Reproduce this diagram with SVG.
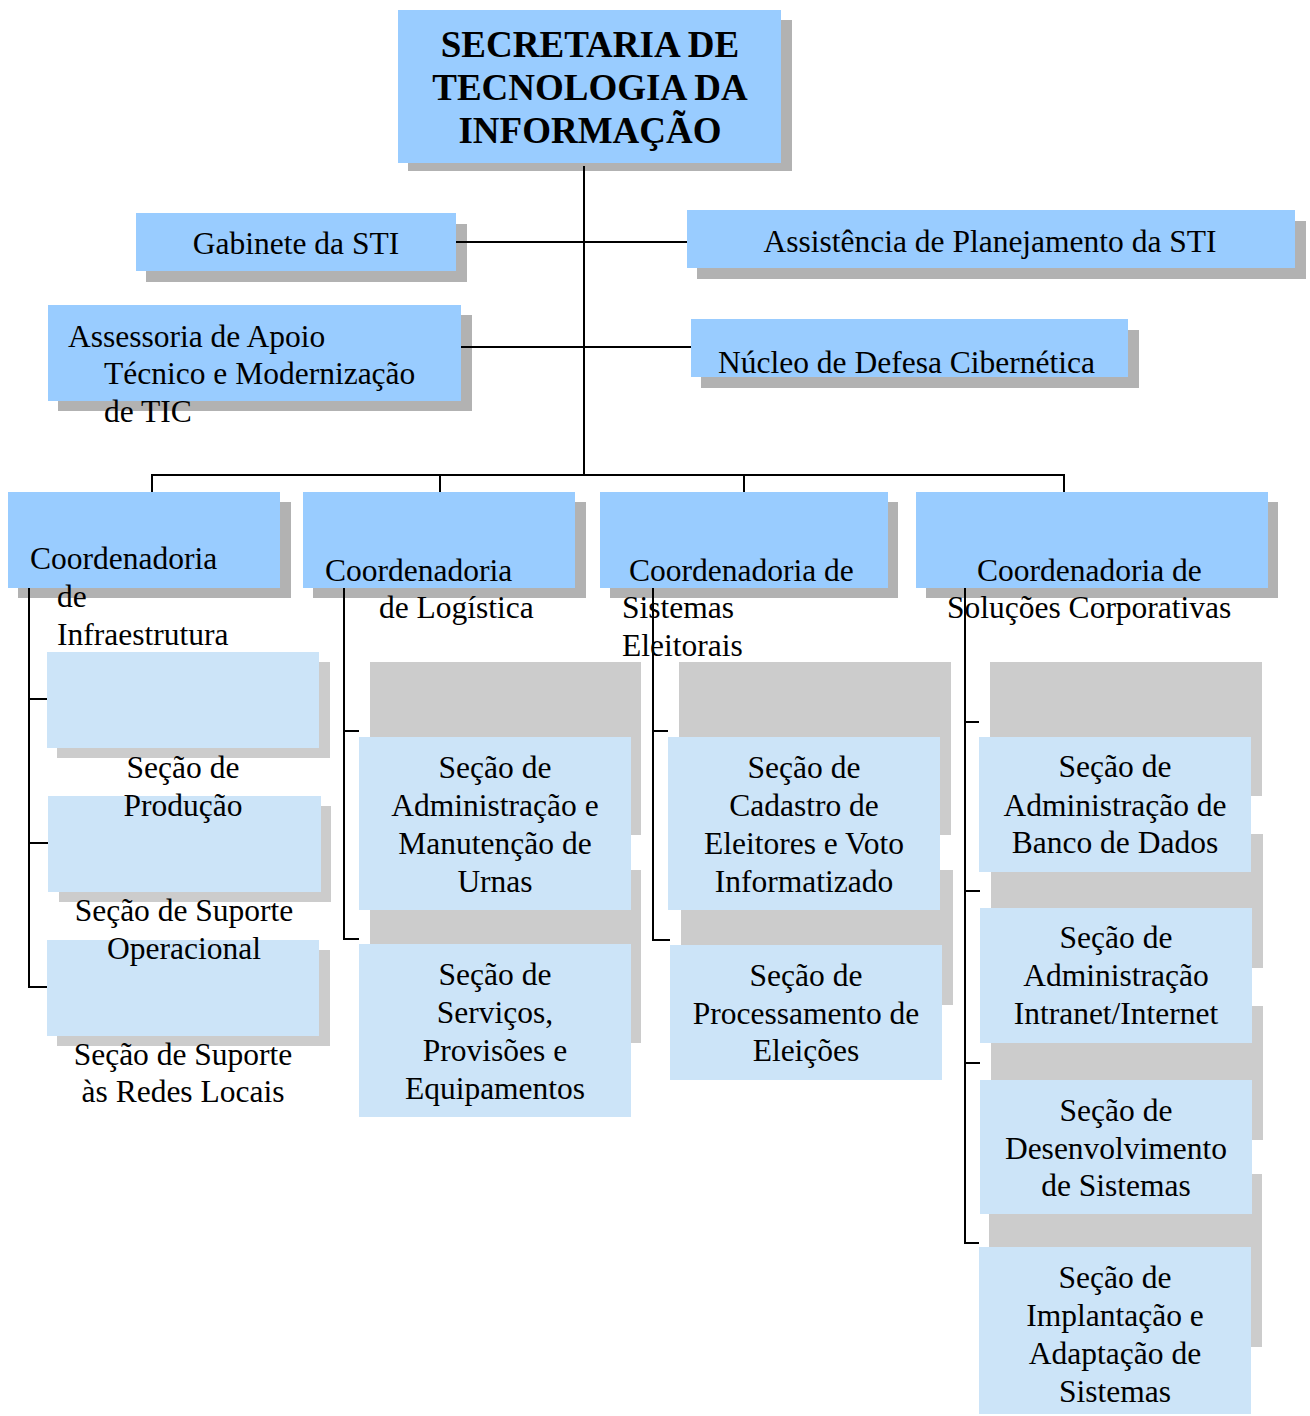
<svg xmlns="http://www.w3.org/2000/svg" width="1310" height="1416" viewBox="0 0 1310 1416">
<style>
.sh1{fill:#B2B2B2}
.sh2{fill:#CCCCCC}
.b1{fill:#99CCFF}
.b2{fill:#CCE4F8}
text{font-family:"Liberation Serif","Times New Roman",serif;font-size:31.5px;fill:#000}
.c{text-anchor:middle}
.title{font-weight:bold;font-size:37px}
.ln{stroke:#000;stroke-width:2;fill:none}
</style>
<rect width="1310" height="1416" fill="#FFFFFF"/>

<g id="sti">
<rect class="sh1" x="408" y="20" width="384" height="151"/>
<rect class="b1" x="398" y="10" width="383" height="153"/>
<text class="c title" x="590" y="57">SECRETARIA DE</text>
<text class="c title" x="590" y="100">TECNOLOGIA DA</text>
<text class="c title" x="590" y="143">INFORMAÇÃO</text>
</g>

<g id="gabinete">
<rect class="sh1" x="146" y="224" width="321" height="58"/>
<rect class="b1" x="136" y="213" width="320" height="58"/>
<text class="c" x="296" y="254">Gabinete da STI</text>
</g>

<g id="assistencia">
<rect class="sh1" x="697" y="221" width="609" height="58"/>
<rect class="b1" x="687" y="210" width="608" height="58"/>
<text class="c" x="990" y="252">Assistência de Planejamento da STI</text>
</g>

<g id="assessoria">
<rect class="sh1" x="58" y="315" width="414" height="96"/>
<rect class="b1" x="48" y="305" width="413" height="96"/>
<text x="68" y="347">Assessoria de Apoio</text>
<text x="104" y="384">Técnico e Modernização</text>
<text x="104" y="422">de TIC</text>
</g>

<g id="nucleo">
<rect class="sh1" x="701" y="330" width="438" height="58"/>
<rect class="b1" x="691" y="319" width="437" height="58"/>
<text x="718" y="373">Núcleo de Defesa Cibernética</text>
</g>

<g id="coord-infra">
<rect class="sh1" x="18" y="502" width="273" height="96"/>
<rect class="b1" x="8" y="492" width="272" height="96"/>
<text x="30" y="569">Coordenadoria</text>
<text x="57" y="607">de</text>
<text x="57" y="645">Infraestrutura</text>
</g>

<g id="coord-log">
<rect class="sh1" x="313" y="502" width="273" height="96"/>
<rect class="b1" x="303" y="492" width="272" height="96"/>
<text x="325" y="581">Coordenadoria</text>
<text x="379" y="618">de Logística</text>
</g>

<g id="coord-sis">
<rect class="sh1" x="610" y="502" width="288" height="96"/>
<rect class="b1" x="600" y="492" width="288" height="96"/>
<text x="629" y="581">Coordenadoria de</text>
<text x="622" y="618">Sistemas</text>
<text x="622" y="656">Eleitorais</text>
</g>

<g id="coord-sol">
<rect class="sh1" x="926" y="502" width="352" height="96"/>
<rect class="b1" x="916" y="492" width="352" height="96"/>
<text x="977" y="581">Coordenadoria de</text>
<text x="947" y="618">Soluções Corporativas</text>
</g>

<g id="sec-redes">
<rect class="sh2" x="57" y="950" width="273" height="96"/>
<rect class="b2" x="47" y="940" width="272" height="96"/>
<text class="c" x="183" y="1065">Seção de Suporte</text>
<text class="c" x="183" y="1102">às Redes Locais</text>
</g>

<g id="sec-operacional">
<rect class="sh2" x="59" y="806" width="272" height="96"/>
<rect class="b2" x="48" y="796" width="273" height="96"/>
<text class="c" x="184" y="921">Seção de Suporte</text>
<text class="c" x="184" y="959">Operacional</text>
</g>

<g id="sec-producao">
<rect class="sh2" x="57" y="662" width="273" height="96"/>
<rect class="b2" x="47" y="652" width="272" height="96"/>
<text class="c" x="183" y="778">Seção de</text>
<text class="c" x="183" y="816">Produção</text>
</g>

<g id="sec-servicos">
<rect class="sh2" x="370" y="870" width="271" height="173"/>
<rect class="b2" x="359" y="944" width="272" height="173"/>
<text class="c" x="495" y="985">Seção de</text>
<text class="c" x="495" y="1023">Serviços,</text>
<text class="c" x="495" y="1061">Provisões e</text>
<text class="c" x="495" y="1099">Equipamentos</text>
</g>

<g id="sec-urnas">
<rect class="sh2" x="370" y="662" width="271" height="173"/>
<rect class="b2" x="359" y="737" width="272" height="173"/>
<text class="c" x="495" y="778">Seção de</text>
<text class="c" x="495" y="816">Administração e</text>
<text class="c" x="495" y="854">Manutenção de</text>
<text class="c" x="495" y="892">Urnas</text>
</g>

<g id="sec-processamento">
<rect class="sh2" x="681" y="870" width="272" height="135"/>
<rect class="b2" x="670" y="945" width="272" height="135"/>
<text class="c" x="806" y="986">Seção de</text>
<text class="c" x="806" y="1024">Processamento de</text>
<text class="c" x="806" y="1061">Eleições</text>
</g>

<g id="sec-cadastro">
<rect class="sh2" x="679" y="662" width="272" height="173"/>
<rect class="b2" x="668" y="737" width="272" height="173"/>
<text class="c" x="804" y="778">Seção de</text>
<text class="c" x="804" y="816">Cadastro de</text>
<text class="c" x="804" y="854">Eleitores e Voto</text>
<text class="c" x="804" y="892">Informatizado</text>
</g>

<g id="sec-implantacao">
<rect class="sh2" x="989" y="1174" width="273" height="173"/>
<rect class="b2" x="979" y="1247" width="272" height="167"/>
<text class="c" x="1115" y="1288">Seção de</text>
<text class="c" x="1115" y="1326">Implantação e</text>
<text class="c" x="1115" y="1364">Adaptação de</text>
<text class="c" x="1115" y="1402">Sistemas</text>
</g>

<g id="sec-desenvolvimento">
<rect class="sh2" x="991" y="1006" width="272" height="134"/>
<rect class="b2" x="980" y="1080" width="272" height="134"/>
<text class="c" x="1116" y="1121">Seção de</text>
<text class="c" x="1116" y="1159">Desenvolvimento</text>
<text class="c" x="1116" y="1196">de Sistemas</text>
</g>

<g id="sec-intranet">
<rect class="sh2" x="991" y="834" width="272" height="134"/>
<rect class="b2" x="980" y="908" width="272" height="135"/>
<text class="c" x="1116" y="948">Seção de</text>
<text class="c" x="1116" y="986">Administração</text>
<text class="c" x="1116" y="1024">Intranet/Internet</text>
</g>

<g id="sec-bd">
<rect class="sh2" x="990" y="662" width="272" height="134"/>
<rect class="b2" x="979" y="737" width="272" height="135"/>
<text class="c" x="1115" y="777">Seção de</text>
<text class="c" x="1115" y="816">Administração de</text>
<text class="c" x="1115" y="853">Banco de Dados</text>
</g>

<g id="connectors" class="ln">
<path d="M584 166V476"/>
<path d="M456 242H687"/>
<path d="M461 347H691"/>
<path d="M151 475H1065"/>
<path d="M152 475V492M440 475V492M744 475V492M1064 475V492"/>
<path d="M29 588V988M29 699H47M29 843H48M29 987H47"/>
<path d="M344 588V939M344 731H359M343 939H359"/>
<path d="M653 588V940M653 731H668M652 940H670"/>
<path d="M965 588V1244M965 722H979M965 891H980M965 1063H980M964 1243H979"/>
</g>
</svg>
